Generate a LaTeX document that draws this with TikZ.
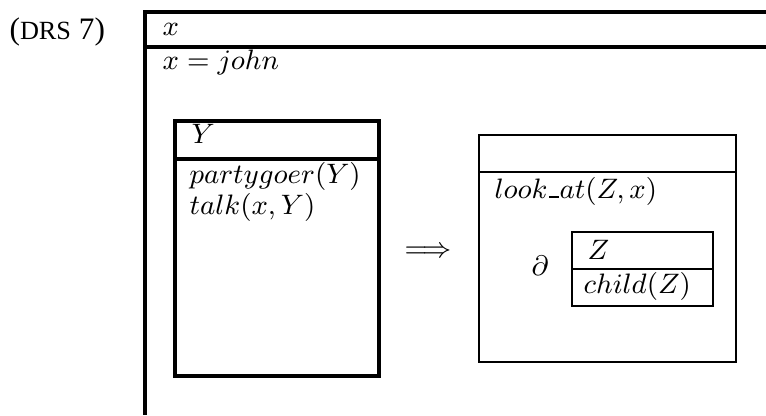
\documentclass[tikz,border=0pt]{standalone}
\usepackage[no-math]{fontspec}
\setmainfont{Liberation Serif}
\tikzset{
  drs frame/.style={line width=1.05pt},
  drs box/.style={line width=1.05pt},
  drs thin/.style={line width=0.7pt},
  drs sub/.style={line width=0.85pt},
  cond/.style={anchor=base west, inner sep=0pt, font=\fontsize{9.4}{11}\selectfont},
}
\newcommand{\drssc}[1]{{\fontsize{8.4}{10}\selectfont #1}}
\newcommand{\drsus}{\kern.06em\vbox{\hrule width.32em height.55pt}\kern.03em}
\begin{document}
\begin{tikzpicture}[x=0.32pt,y=-0.32pt]
\useasboundingbox (0,0) rectangle (766,415);
% example number
\node[anchor=base west, inner sep=0pt] (label) at (9,39) {(\drssc{DRS} 7)};
% main DRS, open to the right and below
\draw[drs frame] (766,12) -- (145,12) -- (145,415);
\draw[drs frame] (145,47) -- (766,47);
\node[cond] (univ) at (162,35) {$x$};
\node[cond] (eq) at (162,69) {$x = john$};
% antecedent box
\draw[drs box] (175,121) rectangle (379,376);
\draw[drs box] (175,159) -- (379,159);
\node[cond] (univY) at (191,143) {$Y$};
\node[cond] (party) at (189,183) {$partygoer(Y)$};
\node[cond] (talk) at (189,214) {$talk(x,Y)$};
% implication
\node[font=\fontsize{9.4}{11}\selectfont] (impl) at (428,252) {$\Longrightarrow$};
% consequent box
\draw[drs thin] (479,135) rectangle (736,362);
\draw[drs thin] (479,172) -- (736,172);
\node[cond] (look) at (494,198) {$look\drsus at(Z,x)$};
\node[font=\fontsize{9.4}{11}\selectfont] (part) at (540,266) {$\partial$};
\draw[drs sub] (572,232) rectangle (713,306);
\draw[drs sub] (572,269) -- (713,269);
\node[cond] (univZ) at (587,259) {$Z$};
\node[cond] (child) at (583,293) {$child(Z)$};
\end{tikzpicture}
\end{document}
